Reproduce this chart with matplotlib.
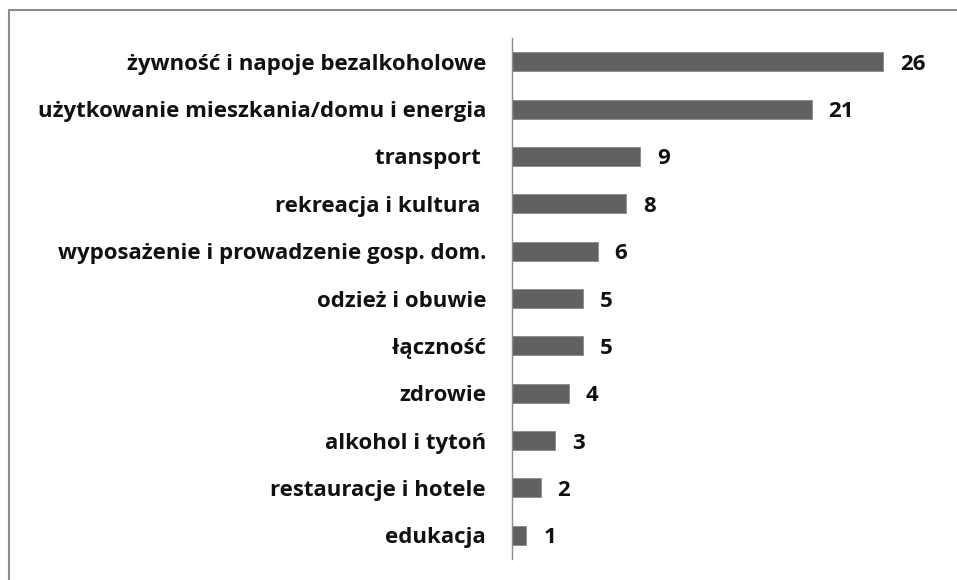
import matplotlib
matplotlib.use("Agg")
import matplotlib.pyplot as plt
from matplotlib.patches import Rectangle

categories = ["żywność i napoje bezalkoholowe",
              "użytkowanie mieszkania/domu i energia",
              "transport ",
              "rekreacja i kultura ",
              "wyposażenie i prowadzenie gosp. dom.",
              "odzież i obuwie",
              "łączność",
              "zdrowie",
              "alkohol i tytoń",
              "restauracje i hotele",
              "edukacja"]
values = [26, 21, 9, 8, 6, 5, 5, 4, 3, 2, 1]

plt.rcParams['font.family'] = ['Open Sans', 'DejaVu Sans']

fig = plt.figure(figsize=(9.57, 5.80), dpi=100)
fig.patches.append(Rectangle((9/957, -0.1), 1.2, 1 - 10/580 + 0.1,
                             transform=fig.transFigure, fill=False,
                             edgecolor='#8c8c8c', linewidth=1.5))
ax = fig.add_axes([512/957, 21/580, 428/957, 521/580])

y = list(range(len(categories)))
ax.barh(y, values, height=0.4, color='#616161', edgecolor='#8a8a8a', linewidth=0.6)
ax.set_ylim(len(categories) - 0.5, -0.5)
ax.set_xlim(0, 30)
for yi, v in zip(y, values):
    ax.annotate(str(v), (v, yi), xytext=(17, 0), textcoords='offset pixels',
                va='center_baseline', ha='left', fontsize=16, fontweight='bold', color='#111111')
ax.set_yticks(y)
ax.set_yticklabels(categories, fontsize=16, fontweight='bold', color='#111111',
                   va='center_baseline')
ax.tick_params(axis='y', length=0, pad=18.7)
ax.set_xticks([])
for s in ['top', 'right', 'bottom']:
    ax.spines[s].set_visible(False)
ax.spines['left'].set_color('#8c8c8c')
ax.spines['left'].set_linewidth(1.0)

fig.savefig("out.png", dpi=100)
